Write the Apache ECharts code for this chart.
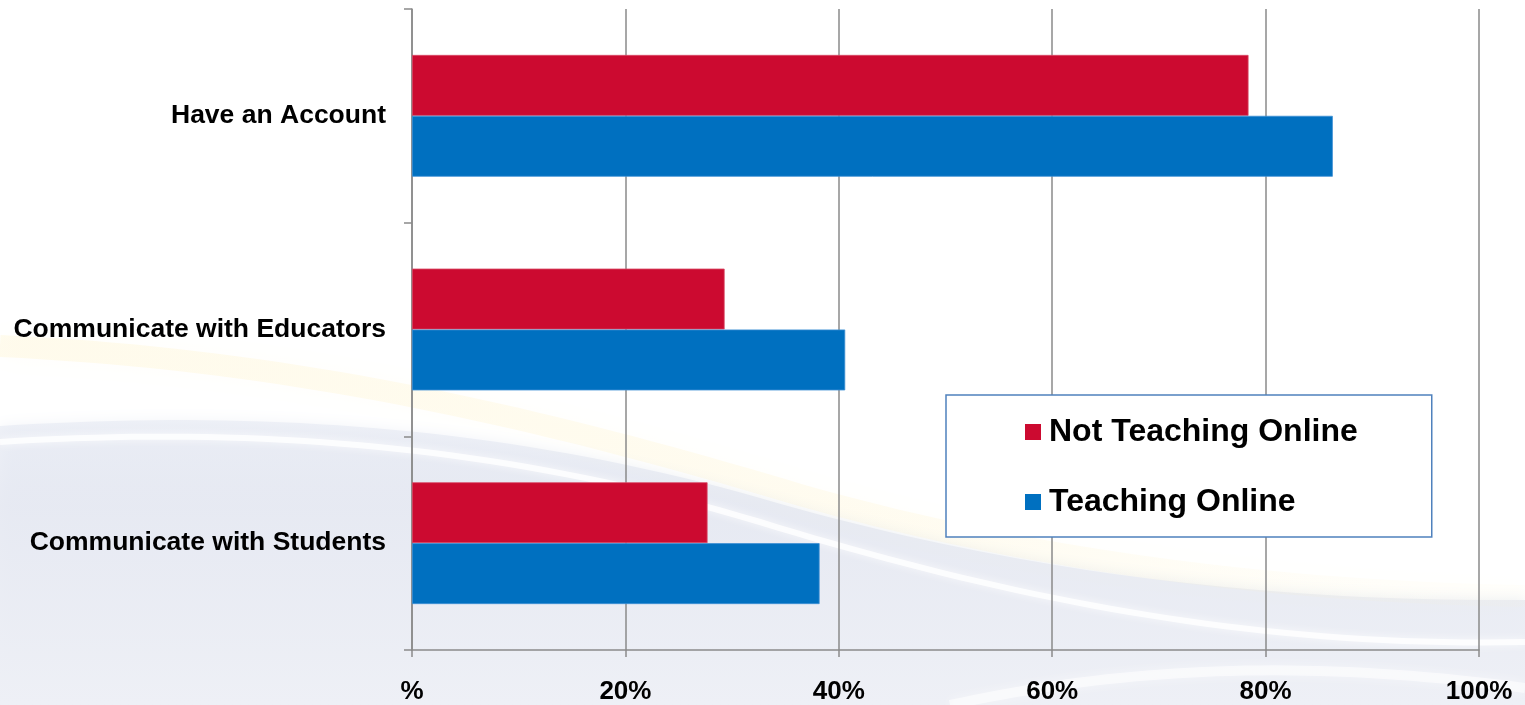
<!DOCTYPE html>
<html>
<head>
<meta charset="utf-8">
<script src="https://cdn.jsdelivr.net/npm/echarts@6/dist/echarts.min.js"></script>
<style>
  html, body { margin: 0; padding: 0; background: #ffffff; }
  #chart { width: 1525px; height: 705px; }
</style>
</head>
<body>
<div id="chart"></div>
<script>
// Categories, top to bottom
const categories = ['Have an Account', 'Communicate with Educators', 'Communicate with Students'];
// Share of respondents (%)
const notTeachingOnline = [78.4, 29.3, 27.7];
const teachingOnline = [86.3, 40.6, 38.2];
// Value axis tick labels (0, 20, ... 100)
const xTickLabels = ['%', '20%', '40%', '60%', '80%', '100%'];

const FONT = 'Arial, "Liberation Sans", Helvetica, sans-serif';

const chart = echarts.init(document.getElementById('chart'), null, { renderer: 'canvas' });

// Sample a chain of cubic bezier segments into a point list (for the backdrop swooshes)
function sampleCurve(segs, n) {
  const pts = [];
  segs.forEach((s, si) => {
    const [p0, p1, p2, p3] = s;
    for (let i = si === 0 ? 0 : 1; i <= n; i++) {
      const t = i / n, u = 1 - t;
      pts.push([
        u * u * u * p0[0] + 3 * u * u * t * p1[0] + 3 * u * t * t * p2[0] + t * t * t * p3[0],
        u * u * u * p0[1] + 3 * u * u * t * p1[1] + 3 * u * t * t * p2[1] + t * t * t * p3[1]
      ]);
    }
  });
  return pts;
}

const waveEdge = sampleCurve([
  [[0, 426], [250, 410], [500, 424], [760, 498]],
  [[760, 498], [1000, 568], [1250, 602], [1525, 600]]
], 40);
const whiteStreak = sampleCurve([
  [[0, 442], [250, 426], [500, 444], [760, 522]],
  [[760, 522], [1000, 596], [1250, 648], [1525, 642]]
], 40);
const lowerStreak = sampleCurve([
  [[950, 705], [1120, 668], [1300, 658], [1525, 688]]
], 40);
const goldStreak = sampleCurve([
  [[0, 346], [300, 360], [550, 420], [800, 495]],
  [[800, 495], [1050, 566], [1300, 592], [1525, 596]]
], 40);

// Decorative swoosh backdrop
const backdrop = [
  {
    type: 'polygon', z: -30, silent: true,
    shape: { points: waveEdge.concat([[1525, 705], [0, 705]]) },
    style: {
      fill: {
        type: 'linear', x: 0, y: 0, x2: 0, y2: 1,
        colorStops: [
          { offset: 0, color: 'rgba(228,232,242,0.55)' },
          { offset: 0.3, color: 'rgba(230,233,242,0.9)' },
          { offset: 1, color: 'rgba(238,240,246,1)' }
        ]
      },
      shadowBlur: 14,
      shadowColor: 'rgba(228,232,242,0.8)'
    }
  },
  {
    type: 'polyline', z: -25, silent: true,
    shape: { points: whiteStreak },
    style: { fill: null, stroke: 'rgba(255,255,255,0.8)', lineWidth: 6, shadowBlur: 8, shadowColor: 'rgba(255,255,255,0.9)' }
  },
  {
    type: 'polyline', z: -25, silent: true,
    shape: { points: lowerStreak },
    style: { fill: null, stroke: 'rgba(255,255,255,0.55)', lineWidth: 10, shadowBlur: 12, shadowColor: 'rgba(255,255,255,0.8)' }
  },
  {
    type: 'polyline', z: -20, silent: true,
    shape: { points: goldStreak },
    style: {
      fill: null,
      stroke: {
        type: 'linear', x: 0, y: 0, x2: 1, y2: 0,
        colorStops: [
          { offset: 0, color: 'rgba(255,232,150,0.16)' },
          { offset: 0.6, color: 'rgba(255,232,150,0.12)' },
          { offset: 1, color: 'rgba(255,240,190,0.05)' }
        ]
      },
      lineWidth: 22, shadowBlur: 26, shadowColor: 'rgba(255,225,120,0.25)'
    }
  }
];

const option = {
  backgroundColor: '#ffffff',
  animation: false,
  graphic: { elements: backdrop },
  grid: { left: 412, right: 46, top: 9, bottom: 53, containLabel: false },
  legend: {
    orient: 'vertical',
    left: 946,
    top: 395,
    padding: [19, 74, 17, 79],
    itemGap: 34,
    itemWidth: 16,
    itemHeight: 16,
    icon: 'rect',
    itemStyle: { borderWidth: 0 },
    backgroundColor: '#ffffff',
    borderColor: '#4f81bd',
    borderWidth: 1.5,
    borderRadius: 0,
    textStyle: { fontFamily: FONT, fontWeight: 'bold', fontSize: 32, color: '#000000', lineHeight: 36, padding: [0, 0, 0, 3] },
    data: ['Not Teaching Online', 'Teaching Online']
  },
  xAxis: {
    type: 'value',
    min: 0, max: 100, interval: 20,
    axisLine: { show: true, lineStyle: { color: '#8a8a8a', width: 1.5 } },
    axisTick: { show: true, length: 7, lineStyle: { color: '#8a8a8a', width: 1.5 } },
    splitLine: { show: true, lineStyle: { color: '#8a8a8a', width: 1.5 } },
    axisLabel: {
      margin: 29,
      fontFamily: FONT, fontWeight: 'bold', fontSize: 26, color: '#000000',
      formatter: v => xTickLabels[Math.round(v / 20)]
    }
  },
  yAxis: {
    type: 'category',
    inverse: true,
    data: categories,
    axisLine: { show: true, lineStyle: { color: '#8a8a8a', width: 1.5 } },
    axisTick: { show: true, length: 8, lineStyle: { color: '#8a8a8a', width: 1.5 } },
    axisLabel: { margin: 26, fontFamily: FONT, fontWeight: 'bold', fontSize: 26.5, color: '#000000' }
  },
  series: [
    {
      name: 'Not Teaching Online',
      type: 'bar',
      data: notTeachingOnline,
      barGap: '0%',
      barCategoryGap: '43%',
      itemStyle: { color: '#cc0a30', borderColor: '#d84a66', borderWidth: 0.8 }
    },
    {
      name: 'Teaching Online',
      type: 'bar',
      data: teachingOnline,
      barGap: '0%',
      barCategoryGap: '43%',
      itemStyle: { color: '#0070c0', borderColor: '#3d8fd4', borderWidth: 0.8 }
    }
  ]
};

chart.setOption(option);
</script>
</body>
</html>
